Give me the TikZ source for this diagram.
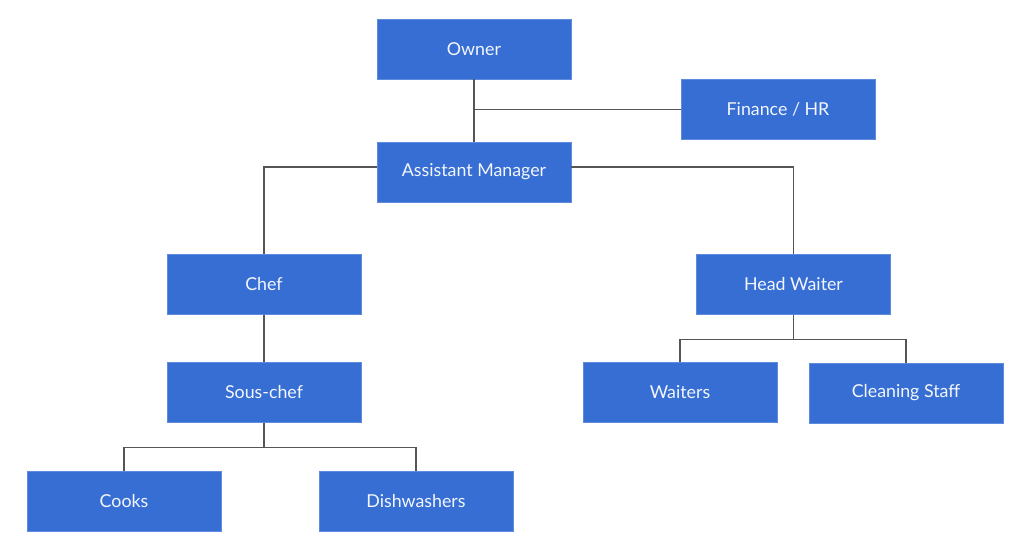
\documentclass[tikz,border=0pt]{standalone}
\usepackage{fontspec}
\setmainfont{Lato}
\definecolor{boxblue}{RGB}{54,110,212}
\definecolor{linegray}{RGB}{85,85,85}
\begin{document}
\begin{tikzpicture}[x=1pt,y=-1pt,
  box/.style={fill=boxblue, draw=boxblue!80!white, line width=0.4pt, minimum width=194pt, minimum height=60pt, inner sep=0pt, text=white!94!boxblue, font=\fontsize{17.8}{21}\selectfont},
  link/.style={draw=linegray, line width=1.3pt}]
\useasboundingbox (0,0) rectangle (1024,554);
\node[box] (own) at (474,49) {Owner};
\node[box] (fin) at (778,109.5) {Finance / HR};
\node[box] (am) at (474,172) {Assistant Manager};
\node[box] (chef) at (264,284.5) {Chef};
\node[box] (hw) at (793.5,284.5) {Head Waiter};
\node[box] (sous) at (264,392.5) {Sous-chef};
\node[box] (wait) at (680,392.5) {Waiters};
\node[box] (clean) at (906,393) {Cleaning Staff};
\node[box] (cook) at (124,501) {Cooks};
\node[box] (dish) at (416,501) {Dishwashers};
\draw[link] (own.south) -- (am.north);
\draw[link] (fin.west) -- (fin.west -| own.south);
\draw[link] ([yshift=5pt]am.west) -| (chef.north);
\draw[link] ([yshift=5pt]am.east) -| (hw.north);
\draw[link] (chef.south) -- (sous.north);
\draw[link] (sous.south) -- ++(0,25) coordinate (sj);
\draw[link] (cook.north) |- (sj) -| (dish.north);
\draw[link] (hw.south) -- ++(0,25) coordinate (hj);
\draw[link] (wait.north) |- (hj) -| (clean.north);
\end{tikzpicture}
\end{document}
